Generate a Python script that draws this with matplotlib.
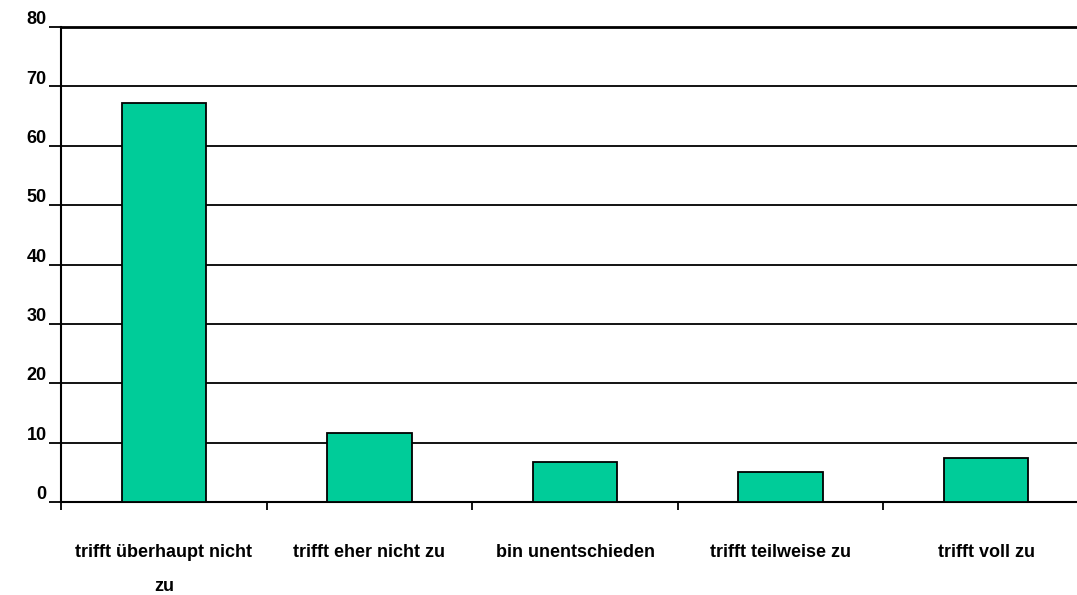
import numpy as np
import matplotlib.pyplot as plt
from matplotlib.transforms import ScaledTranslation

plt.rcParams['font.family'] = ['Liberation Sans', 'DejaVu Sans']

# Antworten und Prozentwerte
kategorien = ["trifft überhaupt nicht\nzu", "trifft eher nicht zu", "bin unentschieden",
              "trifft teilweise zu", "trifft voll zu"]
werte = [67.2, 11.7, 6.7, 5.0, 7.4]
y_ticks = [0, 10, 20, 30, 40, 50, 60, 70, 80]

fig = plt.figure(figsize=(10.77, 5.95), dpi=100)
# Achse reicht rechts etwas über den Bildrand hinaus (wie im Original)
ax = fig.add_axes([61 / 1077, 93 / 595, 1028 / 1077, 475 / 595])

x = np.arange(len(werte))
ax.bar(x, werte, width=0.41, color="#00CC99", edgecolor="black", linewidth=1.3, zorder=3)

ax.set_xlim(-0.5, len(werte) - 0.5)
ax.set_ylim(0, 80)

# Gitterlinien
ax.set_yticks(y_ticks)
ax.yaxis.grid(True, color="black", linewidth=1.3, zorder=1)
ax.tick_params(axis="y", length=8.6, width=1.3, pad=1.8, labelsize=13)
for lbl in ax.get_yticklabels():
    lbl.set_fontweight("bold")
    lbl.set_va("baseline")
    lbl.set_transform(lbl.get_transform() + ScaledTranslation(0, 2 / 72, fig.dpi_scale_trans))

# Kategorie-Trennstriche und Beschriftungen
ax.set_xticks(np.arange(len(werte) + 1) - 0.5)
ax.set_xticklabels([])
ax.tick_params(axis="x", which="major", length=6, width=1.3, direction="out")
ax.set_xticks(x, minor=True)
ax.set_xticklabels(kategorien, minor=True, fontweight="bold", fontsize=13, linespacing=2.3)
ax.tick_params(axis="x", which="minor", length=0, pad=30)

ax.spines["right"].set_visible(False)
ax.spines["top"].set_linewidth(2)
ax.spines["left"].set_linewidth(1.5)
ax.spines["bottom"].set_linewidth(1.5)

fig.savefig("out.png", dpi=100)
